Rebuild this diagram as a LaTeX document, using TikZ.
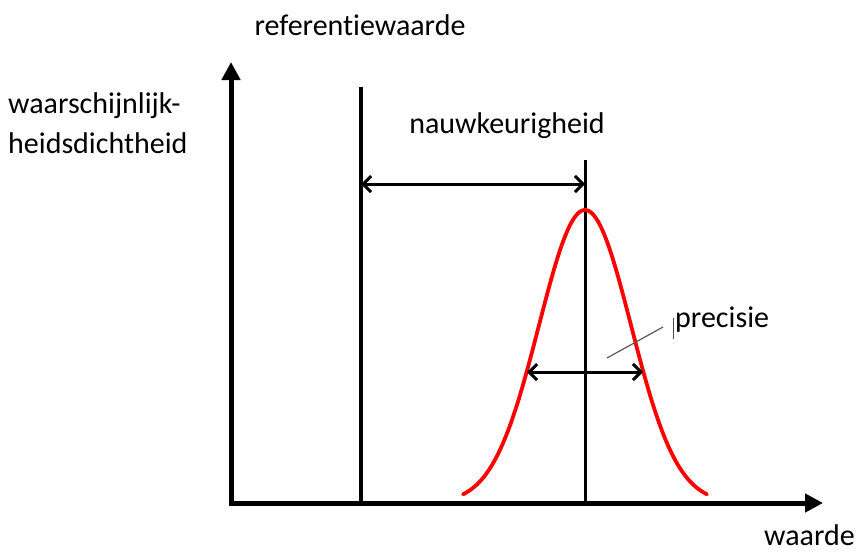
\documentclass[tikz,border=0pt]{standalone}
\usepackage{fontspec}
\setmainfont{Carlito}[Ligatures={NoCommon}]
\usetikzlibrary{arrows.meta,calc}
\begin{document}
\begin{tikzpicture}[x=1pt,y=-1pt,
  lbl/.style={font=\fontsize{30}{40}\selectfont, inner sep=0pt},
  axis/.style={line width=5pt, -{Triangle[length=18pt,width=18pt]}},
  dim/.style={line width=3pt, {Straight Barb[length=8pt,width=16pt]}-{Straight Barb[length=8pt,width=16pt]}}]
\useasboundingbox (0,0) rectangle (861,555);
% coordinates
\coordinate (O) at (231,503);
\coordinate (ytip) at (231,62);
\coordinate (xtip) at (823,503);
\coordinate (refTop) at (361,87);
\coordinate (refBot) at (361,503);
\coordinate (meanTop) at (585,160);
\coordinate (meanBot) at (585,503);
\coordinate (nL) at (361,184);
\coordinate (nR) at (585,184);
\coordinate (pL) at (527,372);
\coordinate (pR) at (643,372);
\coordinate (lead1) at (607,358);
\coordinate (lead2) at (663,327);
\coordinate (bar1) at (673,318);
\coordinate (bar2) at (673,339);
% axes
\draw[axis] ($(O)+(-2.5,0)$) -- (xtip);
\draw[axis] ($(O)+(0,2.5)$) -- (ytip);
% vertical lines
\draw[line width=4pt] (refTop) -- (refBot);
\draw[line width=3pt] (meanTop) -- (meanBot);
% gaussian
\draw[red, line width=3.8pt, line cap=round, domain=463:707, samples=120, smooth]
  plot (\x, {503-293*exp(-((\x-585)^2)/(4232))});
% dimension arrows
\draw[dim] (nL) -- (nR);
\draw[dim] (pL) -- (pR);
% leader
\draw[gray!70!black, line width=1.2pt] (lead1) -- (lead2);
\draw[gray!60!black, line width=0.8pt] (bar1) -- (bar2);
% labels
\node[lbl] (ref) at (360,25) {referentiewaarde};
\node[lbl, anchor=west, align=left] (pdf) at (8,123) {waarschijnlijk-\\heidsdichtheid};
\node[lbl] (nauw) at (507,126) {nauwkeurigheid};
\node[lbl, anchor=west] (prec) at (675,320) {precisie};
\node[lbl, anchor=east] (waarde) at (855,535) {waarde};
\end{tikzpicture}
\end{document}
